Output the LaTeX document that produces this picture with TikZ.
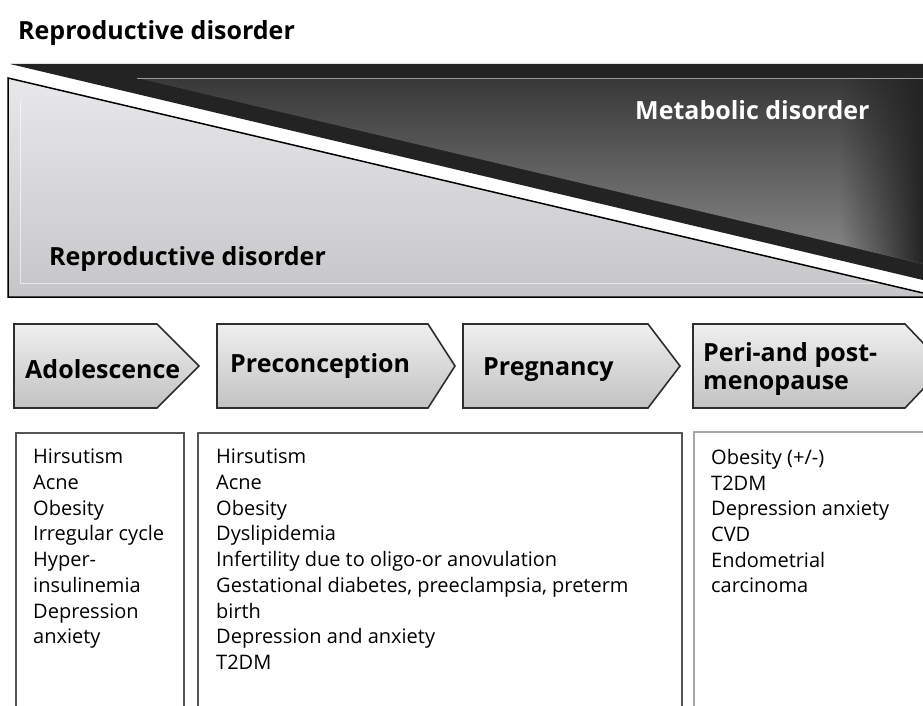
\documentclass[tikz,border=0pt]{standalone}
\usepackage{fontspec}
\setmainfont{Open Sans}
\usepackage{tikz}
\usetikzlibrary{positioning, fadings}

\definecolor{bandblack}{HTML}{232323}
\definecolor{darktop}{HTML}{383838}
\definecolor{darkbot}{HTML}{8A8A8C}
\definecolor{lighttop}{HTML}{E8E8EA}
\definecolor{lightbot}{HTML}{C6C6C8}
\definecolor{chevtop}{HTML}{EFEFEF}
\definecolor{chevbot}{HTML}{C2C2C2}
\definecolor{chevline}{HTML}{2E2E2E}
\definecolor{boxline}{HTML}{555555}

\tikzfading[name=fadeleft, left color=transparent!100, right color=transparent!0]

\begin{document}
\begin{tikzpicture}[x=1pt, y=-1pt,
        head/.style={font=\bfseries\fontsize{25}{30}\selectfont, inner sep=0pt, anchor=base west},
        stage/.style={font=\bfseries\fontsize{25}{28}\selectfont, inner sep=0pt, align=left},
        chev/.style={draw=chevline, line width=1.6pt, top color=chevtop, bottom color=chevbot},
        listbox/.style={draw=boxline, line width=1.2pt},
        items/.style={font=\fontsize{20}{25.7}\selectfont, inner sep=0pt, anchor=north west, align=left}
        ]
        \useasboundingbox (0,0) rectangle (923,706);

        % banner
        \path[top color=lighttop, bottom color=lightbot] (8,78) -- (923,293) -- (923,297) -- (8,297) -- cycle;
        \draw[white, opacity=.6, line width=.8pt] (20,100) -- (20,283) -- (923,283);
        \fill[bandblack] (10,64) -- (923,64) -- (923,280) -- cycle;
        \path[top color=darktop, bottom color=darkbot] (137,78) -- (923,78) -- (923,264) -- cycle;
        \fill[bandblack, path fading=fadeleft] (840,78) -- (923,78) -- (923,264) -- (840,244) -- cycle;
        \draw[gray!80, line width=.8pt] (137,78) -- (923,78);
        \draw[black, line width=1.5pt] (923,293) -- (8,78) -- (8,297) -- (923,297);

        \node[head] (title) at (18,40) {Reproductive disorder};
        \node[head, text=white] (metab) at (635,120) {Metabolic disorder};
        \node[head] (repro) at (49,265) {Reproductive disorder};

        % stages
        \path[chev] (14,324) -- (157,324) -- (199,366) -- (157,408) -- (14,408) -- cycle;
        \path[chev] (217,324) -- (428,324) -- (455,366) -- (428,408) -- (217,408) -- cycle;
        \path[chev] (463,324) -- (648,324) -- (680,366) -- (648,408) -- (463,408) -- cycle;
        \path[chev] (693,324) -- (905,324) -- (945,366) -- (905,408) -- (693,408) -- cycle;

        \node[stage, anchor=base west] (adol) at (25,378) {Adolescence};
        \node[stage, anchor=base west] (precon) at (230,372) {Preconception};
        \node[stage, anchor=base west] (preg) at (483,375) {Pregnancy};
        \node[stage, anchor=west] (meno) at (703,369) {Peri-and post-\\menopause};

        % lists
        \draw[listbox] (16,706) -- (16,433) -- (184,433) -- (184,706);
        \draw[listbox] (198,706) -- (198,433) -- (682,433) -- (682,706);
        \draw[listbox, draw=gray!70] (694,706) -- (694,432) -- (923,432);

        \node[items] (adolist) at (33,449) {Hirsutism\\Acne\\Obesity\\Irregular cycle\\Hyper-\\insulinemia\\Depression\\anxiety};
        \node[items] (preconlist) at (216,449) {Hirsutism\\Acne\\Obesity\\Dyslipidemia\\Infertility due to oligo-or anovulation\\Gestational diabetes, preeclampsia, preterm\\birth\\Depression and anxiety\\T2DM};
        \node[items] (menolist) at (711,449) {Obesity (+/-)\\T2DM\\Depression anxiety\\CVD\\Endometrial\\carcinoma};
    \end{tikzpicture}
\end{document}
